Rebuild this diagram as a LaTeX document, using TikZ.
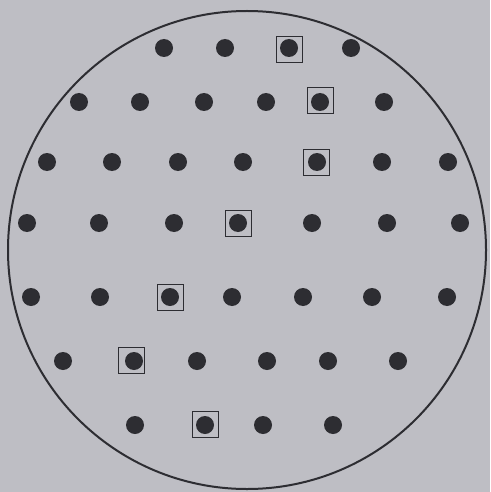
\documentclass[tikz,border=0pt]{standalone}
\usepackage{tikz}
\usetikzlibrary{positioning}

\definecolor{paper}{RGB}{190,190,196}
\definecolor{ink}{RGB}{45,45,50}

\begin{document}
\begin{tikzpicture}[
    x=1pt, y=-1pt,
    pin/.style={circle, fill=ink, inner sep=0pt, minimum size=18pt},
    frame/.style={rectangle, draw=ink, line width=1pt, inner sep=0pt, minimum size=26pt}
]

% Background and wafer outline
\fill[paper] (0,0) rectangle (490,492);
\node[circle, draw=ink, line width=2pt, inner sep=0pt, minimum size=478pt] (wafer) at (247,250) {};

% Rows of pins
\foreach \x [count=\i] in {164,225,289,351}
    \node[pin] (a\i) at (\x,48) {};
\foreach \x [count=\i] in {79,140,204,266,320,384}
    \node[pin] (b\i) at (\x,102) {};
\foreach \x [count=\i] in {47,112,178,243,317,382,448}
    \node[pin] (c\i) at (\x,162) {};
\foreach \x [count=\i] in {27,99,174,238,312,387,460}
    \node[pin] (d\i) at (\x,223) {};
\foreach \x [count=\i] in {31,100,170,232,303,372,447}
    \node[pin] (e\i) at (\x,297) {};
\foreach \x [count=\i] in {63,134,197,267,328,398}
    \node[pin] (f\i) at (\x,361) {};
\foreach \x [count=\i] in {135,205,263,333}
    \node[pin] (g\i) at (\x,425) {};

% Marked pins
\node[frame] (ma) at (289,49.5) {};
\node[frame] (mb) at (320,101) {};
\node[frame] (mc) at (316.5,162) {};
\node[frame] (md) at (238.5,223.5) {};
\node[frame] (me) at (170,297.5) {};
\node[frame] (mf) at (131,360) {};
\node[frame] (mg) at (205,424) {};

\end{tikzpicture}
\end{document}
